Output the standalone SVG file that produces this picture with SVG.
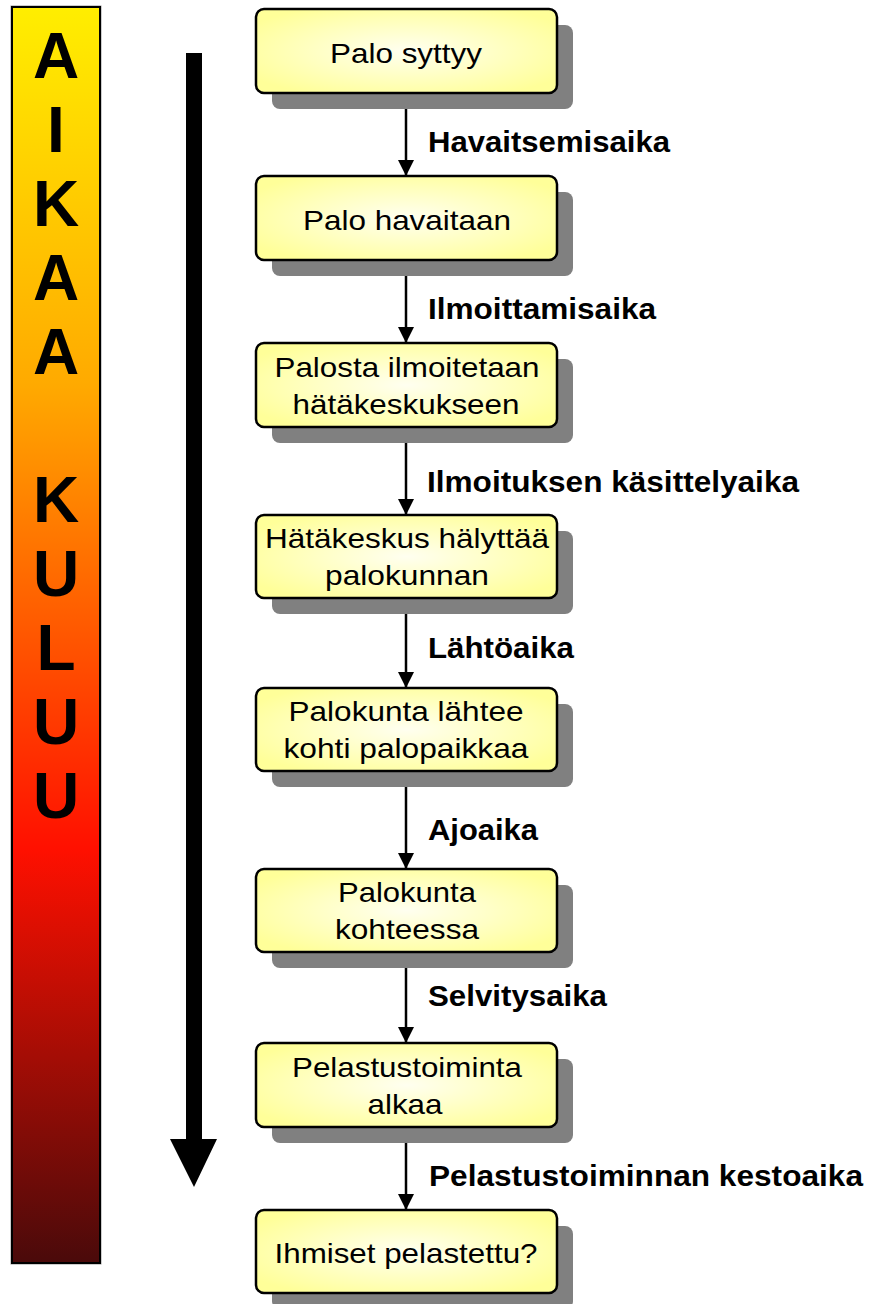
<svg xmlns="http://www.w3.org/2000/svg" width="869" height="1304" viewBox="0 0 869 1304">
<style>
.box{fill:url(#boxg);stroke:#000;stroke-width:2.5}
.sh{fill:#808080}
.nt{font-family:"Liberation Sans",Arial,sans-serif;font-size:28.5px;fill:#000;text-anchor:middle}
.lb{font-family:"Liberation Sans",Arial,sans-serif;font-size:29.5px;font-weight:bold;fill:#000}
.bl{font-family:"Liberation Sans",Arial,sans-serif;font-size:64px;font-weight:bold;fill:#000;text-anchor:middle}
.con{stroke:#000;stroke-width:2.5;fill:none;marker-end:url(#ah)}
</style>
<defs>
<linearGradient id="barg" x1="0" y1="0" x2="0" y2="1">
<stop offset="0" stop-color="#FFEE00"/>
<stop offset="0.3" stop-color="#FFAA00"/>
<stop offset="0.67" stop-color="#FF1000"/>
<stop offset="1" stop-color="#4A0A0A"/>
</linearGradient>
<radialGradient id="boxg" cx="0.5" cy="0.5" r="0.6">
<stop offset="0" stop-color="#FFFFF0"/>
<stop offset="1" stop-color="#FFFF99"/>
</radialGradient>
<marker id="ah" viewBox="0 0 16 16" refX="16" refY="8" markerWidth="16" markerHeight="16" markerUnits="userSpaceOnUse" orient="auto">
<path d="M0,0 L16,8 L0,16 z" fill="#000"/>
</marker>
</defs>

<g id="timebar">
<rect x="11" y="6" width="90" height="1258" fill="none" stroke="#999" stroke-width="1"/>
<rect x="12" y="7" width="88" height="1256" fill="url(#barg)" stroke="#000" stroke-width="2"/>
<text class="bl" x="56" y="78">A</text>
<text class="bl" x="56" y="152">I</text>
<text class="bl" x="56" y="226">K</text>
<text class="bl" x="56" y="300">A</text>
<text class="bl" x="56" y="374">A</text>
<text class="bl" x="56" y="522">K</text>
<text class="bl" x="56" y="596">U</text>
<text class="bl" x="56" y="670">L</text>
<text class="bl" x="56" y="744">U</text>
<text class="bl" x="56" y="818">U</text>
</g>

<g id="timearrow">
<path d="M186,53 H202 V1139 H217 L194,1187 L170,1139 H186 Z" fill="#000"/>
</g>

<g id="connectors">
<line class="con" x1="406" y1="93" x2="406" y2="176"/>
<line class="con" x1="406" y1="260" x2="406" y2="343"/>
<line class="con" x1="406" y1="427" x2="406" y2="515"/>
<line class="con" x1="406" y1="598" x2="406" y2="688"/>
<line class="con" x1="406" y1="771" x2="406" y2="869"/>
<line class="con" x1="406" y1="952" x2="406" y2="1043"/>
<line class="con" x1="406" y1="1127" x2="406" y2="1210"/>
<text class="lb" x="428" y="152" textLength="242" lengthAdjust="spacingAndGlyphs">Havaitsemisaika</text>
<text class="lb" x="428" y="319" textLength="228" lengthAdjust="spacingAndGlyphs">Ilmoittamisaika</text>
<text class="lb" x="427" y="492" textLength="372" lengthAdjust="spacingAndGlyphs">Ilmoituksen käsittelyaika</text>
<text class="lb" x="428" y="658" textLength="146" lengthAdjust="spacingAndGlyphs">Lähtöaika</text>
<text class="lb" x="428" y="840" textLength="110" lengthAdjust="spacingAndGlyphs">Ajoaika</text>
<text class="lb" x="428" y="1006" textLength="179" lengthAdjust="spacingAndGlyphs">Selvitysaika</text>
<text class="lb" x="429" y="1186" textLength="434" lengthAdjust="spacingAndGlyphs">Pelastustoiminnan kestoaika</text>
</g>

<g id="n1">
<rect class="sh" x="272" y="25" width="301" height="84" rx="8"/>
<rect class="box" x="256" y="9" width="301" height="84" rx="8"/>
<text class="nt" x="406" y="63" textLength="152" lengthAdjust="spacingAndGlyphs">Palo syttyy</text>
</g>
<g id="n2">
<rect class="sh" x="272" y="192" width="301" height="84" rx="8"/>
<rect class="box" x="256" y="176" width="301" height="84" rx="8"/>
<text class="nt" x="407" y="230" textLength="208" lengthAdjust="spacingAndGlyphs">Palo havaitaan</text>
</g>
<g id="n3">
<rect class="sh" x="272" y="359" width="301" height="84" rx="8"/>
<rect class="box" x="256" y="343" width="301" height="84" rx="8"/>
<text class="nt" x="407" y="377" textLength="265" lengthAdjust="spacingAndGlyphs">Palosta ilmoitetaan</text>
<text class="nt" x="406" y="414" textLength="227" lengthAdjust="spacingAndGlyphs">hätäkeskukseen</text>
</g>
<g id="n4">
<rect class="sh" x="272" y="531" width="301" height="83" rx="8"/>
<rect class="box" x="256" y="515" width="301" height="83" rx="8"/>
<text class="nt" x="407" y="548" textLength="284" lengthAdjust="spacingAndGlyphs">Hätäkeskus hälyttää</text>
<text class="nt" x="407" y="585" textLength="164" lengthAdjust="spacingAndGlyphs">palokunnan</text>
</g>
<g id="n5">
<rect class="sh" x="272" y="704" width="301" height="83" rx="8"/>
<rect class="box" x="256" y="688" width="301" height="83" rx="8"/>
<text class="nt" x="406" y="721" textLength="235" lengthAdjust="spacingAndGlyphs">Palokunta lähtee</text>
<text class="nt" x="406" y="758" textLength="245" lengthAdjust="spacingAndGlyphs">kohti palopaikkaa</text>
</g>
<g id="n6">
<rect class="sh" x="272" y="885" width="301" height="83" rx="8"/>
<rect class="box" x="256" y="869" width="301" height="83" rx="8"/>
<text class="nt" x="407" y="902" textLength="138" lengthAdjust="spacingAndGlyphs">Palokunta</text>
<text class="nt" x="407" y="939" textLength="144" lengthAdjust="spacingAndGlyphs">kohteessa</text>
</g>
<g id="n7">
<rect class="sh" x="272" y="1059" width="301" height="84" rx="8"/>
<rect class="box" x="256" y="1043" width="301" height="84" rx="8"/>
<text class="nt" x="407" y="1077" textLength="230" lengthAdjust="spacingAndGlyphs">Pelastustoiminta</text>
<text class="nt" x="405" y="1114" textLength="75" lengthAdjust="spacingAndGlyphs">alkaa</text>
</g>
<g id="n8">
<rect class="sh" x="272" y="1226" width="301" height="83" rx="8"/>
<rect class="box" x="256" y="1210" width="301" height="83" rx="8"/>
<text class="nt" x="406" y="1263" textLength="263" lengthAdjust="spacingAndGlyphs">Ihmiset pelastettu?</text>
</g>
</svg>
